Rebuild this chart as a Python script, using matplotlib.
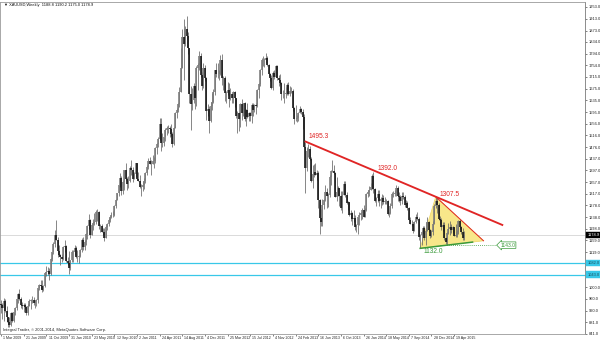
import numpy as np
import pandas as pd
import matplotlib
matplotlib.use("Agg")
import matplotlib.pyplot as plt
import matplotlib.transforms as mtransforms
from matplotlib.patches import Polygon

plt.rcParams["font.family"] = ["Liberation Sans", "DejaVu Sans"]

# XAUUSD weekly bars, first bar = week of 1 Mar 2009
first_week = "2009-03-01"
first_open = 942.0

closes = [
    # 2009
    940, 930, 953, 920, 900, 880, 871, 913, 886, 915, 930, 958, 978, 958, 938, 935,
    940, 932, 911, 937, 952, 955, 955, 947, 952, 955, 996, 1006, 1003, 990, 1003, 1049,
    1051, 1056, 1045, 1096, 1118, 1146, 1176, 1162, 1122, 1108, 1104, 1096,
    # 2010
    1138, 1140, 1090, 1083, 1066, 1091, 1118, 1118, 1133, 1102, 1103, 1105, 1125, 1161, 1137, 1155,
    1180, 1209, 1227, 1177, 1213, 1217, 1222, 1256, 1256, 1208, 1209, 1189, 1188, 1168, 1205, 1215,
    1227, 1237, 1246, 1246, 1276, 1297, 1319, 1346, 1370, 1328, 1358, 1397, 1368, 1352, 1362, 1406,
    1398, 1368, 1384, 1421,
    # 2011
    1369, 1360, 1341, 1341, 1348, 1361, 1387, 1410, 1429, 1420, 1418, 1428, 1429, 1474, 1486, 1504,
    1556, 1491, 1492, 1510, 1536, 1542, 1543, 1539, 1522, 1486, 1543, 1592, 1602, 1624, 1663, 1744,
    1852, 1828, 1877, 1855, 1813, 1657, 1624, 1636, 1683, 1643, 1744, 1756, 1788, 1723, 1685, 1746,
    1711, 1598, 1606, 1566,
    # 2012
    1617, 1631, 1664, 1738, 1725, 1725, 1724, 1774, 1711, 1711, 1659, 1662, 1669, 1641, 1657, 1643,
    1663, 1645, 1582, 1591, 1573, 1622, 1591, 1627, 1572, 1604, 1579, 1592, 1583, 1619, 1603, 1620,
    1616, 1671, 1692, 1740, 1771, 1772, 1772, 1780, 1756, 1724, 1711, 1677, 1730, 1714, 1751, 1712,
    1705, 1696, 1657, 1658, 1656,
    # 2013
    1662, 1687, 1658, 1667, 1667, 1609, 1572, 1572, 1577, 1592, 1606, 1597, 1580, 1476, 1406, 1463,
    1469, 1437, 1361, 1386, 1392, 1383, 1387, 1298, 1234, 1223, 1278, 1296, 1322, 1310, 1313, 1376,
    1396, 1396, 1387, 1308, 1325, 1338, 1310, 1270, 1315, 1351, 1315, 1287, 1288, 1244, 1253, 1231,
    1235, 1204, 1213, 1237,
    # 2014
    1247, 1253, 1264, 1240, 1262, 1318, 1323, 1330, 1339, 1379, 1335, 1294, 1303, 1318, 1293, 1300,
    1302, 1290, 1293, 1293, 1250, 1253, 1275, 1316, 1316, 1320, 1337, 1310, 1307, 1294, 1310, 1305,
    1280, 1287, 1268, 1229, 1216, 1216, 1192, 1222, 1238, 1232, 1171, 1177, 1187, 1201, 1167, 1191,
    1222, 1195, 1174, 1186,
    # 2015
    1216, 1276, 1293, 1279, 1233, 1227, 1203, 1213, 1167, 1152, 1183, 1198, 1203, 1195, 1203, 1175,
    1179, 1189, 1225, 1204, 1189, 1168, 1178.9,
]

highs = [
    # 2009
    955, 946, 962, 961, 935, 896, 897, 915, 916, 917, 933, 960, 981, 992, 965, 951,
    947, 945, 935, 942, 960, 960, 970, 965, 957, 960, 998, 1010, 1025, 1024, 1007, 1050,
    1071, 1070, 1065, 1098, 1120, 1152, 1196, 1227, 1172, 1144, 1113, 1112,
    # 2010
    1140, 1162, 1142, 1104, 1124, 1093, 1128, 1126, 1144, 1139, 1127, 1110, 1131, 1168, 1170, 1160,
    1184, 1212, 1249, 1232, 1216, 1232, 1251, 1262, 1265, 1260, 1214, 1216, 1200, 1202, 1211, 1217,
    1236, 1241, 1254, 1258, 1279, 1300, 1321, 1349, 1387, 1378, 1360, 1398, 1424, 1373, 1378, 1412,
    1432, 1408, 1392, 1424,
    # 2011
    1424, 1391, 1381, 1351, 1360, 1370, 1391, 1414, 1441, 1444, 1434, 1448, 1442, 1476, 1489, 1510,
    1576, 1577, 1525, 1512, 1540, 1549, 1553, 1549, 1556, 1528, 1546, 1595, 1610, 1628, 1682, 1815,
    1878, 1912, 1890, 1922, 1868, 1812, 1683, 1678, 1695, 1683, 1751, 1764, 1802, 1796, 1732, 1764,
    1756, 1716, 1624, 1617,
    # 2012
    1630, 1662, 1674, 1740, 1764, 1763, 1738, 1790, 1792, 1718, 1718, 1667, 1697, 1696, 1677, 1659,
    1667, 1667, 1645, 1598, 1596, 1627, 1641, 1628, 1630, 1606, 1626, 1597, 1596, 1627, 1625, 1622,
    1627, 1675, 1693, 1741, 1778, 1788, 1781, 1796, 1787, 1760, 1729, 1723, 1734, 1737, 1754, 1754,
    1722, 1725, 1699, 1670, 1694,
    # 2013
    1681, 1694, 1697, 1685, 1682, 1674, 1613, 1619, 1586, 1597, 1616, 1611, 1605, 1588, 1495.3, 1476,
    1487, 1481, 1444, 1417, 1418, 1424, 1397, 1396, 1300, 1267, 1299, 1299, 1348, 1338, 1320, 1380,
    1398, 1433, 1417, 1392, 1374, 1344, 1336, 1327, 1328, 1362, 1361, 1323, 1293, 1289, 1262, 1254,
    1261, 1245, 1216, 1239,
    # 2014
    1255, 1256, 1270, 1280, 1268, 1320, 1332, 1345, 1355, 1385, 1392, 1338, 1307, 1332, 1331, 1305,
    1316, 1315, 1305, 1300, 1295, 1257, 1285, 1325, 1326, 1332, 1346, 1343, 1324, 1312, 1322, 1322,
    1314, 1296, 1292, 1272, 1240, 1229, 1223, 1226, 1250, 1255, 1237, 1180, 1190, 1207, 1207, 1222,
    1238, 1226, 1198, 1194,
    # 2015
    1224, 1282, 1307.5, 1305, 1285, 1242, 1236, 1221, 1223, 1171, 1188, 1219, 1224, 1215, 1209, 1204,
    1214, 1195, 1227, 1232, 1209, 1200, 1190.2,
]

lows = [
    # 2009
    912, 893, 885, 917, 882, 865, 866, 868, 881, 880, 906, 922, 945, 955, 930, 925,
    915, 924, 905, 906, 935, 925, 945, 938, 928, 936, 945, 989, 995, 985, 987, 1002,
    1039, 1042, 1023, 1043, 1088, 1114, 1137, 1160, 1104, 1105, 1076, 1086,
    # 2010
    1094, 1120, 1087, 1075, 1045, 1058, 1084, 1086, 1108, 1098, 1086, 1082, 1101, 1121, 1125, 1128,
    1143, 1164, 1198, 1166, 1176, 1195, 1211, 1215, 1225, 1198, 1189, 1189, 1176, 1157, 1176, 1193,
    1209, 1223, 1234, 1239, 1241, 1270, 1295, 1311, 1342, 1315, 1318, 1331, 1364, 1330, 1336, 1356,
    1381, 1359, 1371, 1375,
    # 2011
    1365, 1360, 1337, 1309, 1327, 1333, 1355, 1381, 1403, 1418, 1381, 1418, 1406, 1424, 1452, 1478,
    1500, 1462, 1478, 1481, 1498, 1519, 1524, 1511, 1515, 1478, 1482, 1544, 1576, 1596, 1614, 1666,
    1744, 1704, 1819, 1818, 1792, 1628, 1535, 1601, 1628, 1605, 1616, 1672, 1737, 1715, 1670, 1679,
    1700, 1567, 1583, 1523,
    # 2012
    1563, 1604, 1626, 1654, 1714, 1711, 1705, 1720, 1688, 1671, 1634, 1627, 1655, 1612, 1636, 1625,
    1627, 1614, 1577, 1526, 1532, 1546, 1570, 1581, 1564, 1547, 1577, 1565, 1564, 1560, 1581, 1597,
    1590, 1614, 1645, 1684, 1722, 1753, 1750, 1762, 1753, 1719, 1700, 1674, 1672, 1707, 1723, 1705,
    1683, 1692, 1635, 1644, 1625,
    # 2013
    1645, 1655, 1655, 1651, 1662, 1600, 1555, 1565, 1562, 1565, 1591, 1588, 1539, 1476, 1321, 1395,
    1442, 1431, 1359, 1338, 1373, 1380, 1365, 1270, 1180, 1207, 1208, 1267, 1294, 1270, 1274, 1308,
    1348, 1390, 1384, 1306, 1294, 1311, 1277, 1262, 1251, 1313, 1307, 1282, 1263, 1241, 1226, 1211,
    1222, 1195, 1187, 1182,
    # 2014
    1211, 1227, 1233, 1238, 1238, 1258, 1306, 1310, 1330, 1334, 1321, 1288, 1277, 1291, 1277, 1268,
    1278, 1283, 1284, 1283, 1245, 1240, 1250, 1270, 1306, 1309, 1311, 1292, 1290, 1281, 1283, 1299,
    1273, 1274, 1262, 1227, 1214, 1207, 1183, 1190, 1217, 1227, 1160, 1132, 1145, 1180, 1162, 1142,
    1190, 1186, 1167, 1171,
    # 2015
    1178, 1218, 1270, 1251, 1229, 1216, 1196, 1191, 1162, 1147, 1142.9, 1182, 1178, 1183, 1183, 1174,
    1170, 1170, 1181, 1199, 1182, 1162, 1162,
]

price_ticks = [1953.0, 1913.0, 1873.0, 1834.0, 1794.0, 1754.0, 1715.0, 1675.0, 1635.0, 1595.0,
               1556.0, 1516.0, 1476.0, 1437.0, 1397.0, 1357.0, 1317.0, 1278.0, 1238.0, 1198.0,
               1159.0, 1119.0, 1080.0, 1040.0, 1000.0, 960.0, 920.0, 881.0, 841.0]

date_labels = ["1 Mar 2009", "21 Jun 2009", "11 Oct 2009", "31 Jan 2010", "23 May 2010",
               "12 Sep 2010", "2 Jan 2011", "24 Apr 2011", "14 Aug 2011", "4 Dec 2011",
               "25 Mar 2012", "15 Jul 2012", "4 Nov 2012", "24 Feb 2013", "16 Jun 2013",
               "6 Oct 2013", "26 Jan 2014", "18 May 2014", "7 Sep 2014", "28 Dec 2014",
               "19 Apr 2015"]
label_step = 16

title = "XAUUSD,Weekly  1188.8 1190.2 1175.0 1178.9"
footer = "Integral Trader, \u00a9 2001-2014, MetaQuotes Software Corp."

# hand drawn objects: (week, price)
resist_pts = [("2013-04-14", 1495.3), ("2015-01-18", 1307.5)]
resist_mid = ("2014-03-16", 1392.0)
resist_ext = 47          # weeks past the second anchor
support_pts = [("2014-11-02", 1132.0), ("2015-03-15", 1142.9)]
support_ext = 18
wedge_top2 = ("2015-05-17", 1232.0)
level_low = 1142.9
level_text = "1143.0"
cyan_levels = [1082.0, 1043.0]
last_price = 1178.9

RED = "#e02525"
GREEN = "#3a9a3a"
CYAN = "#38c8e8"

# ---------------------------------------------------------------
closes = np.array(closes, dtype=float)
highs = np.array(highs, dtype=float)
lows = np.array(lows, dtype=float)
assert len(closes) == len(highs) == len(lows)
opens = np.r_[first_open, closes[:-1]]
dates = pd.date_range(first_week, periods=len(closes), freq="W-SUN")
x = np.arange(len(closes))


def wk(d):
    return dates.get_loc(pd.Timestamp(d))


fig = plt.figure(figsize=(6, 3.42), dpi=100)
ax = fig.add_axes([0.0, 8 / 342, 585 / 600, 332 / 342])
ax.set_xlim(-0.7, 412.4)
ax.set_ylim(840.6, 1970.0)

# candles
hi = np.maximum.reduce([highs, opens, closes])
lo = np.minimum.reduce([lows, opens, closes])
ax.vlines(x, lo, hi, color="#666666", lw=0.55, zorder=3)
up = closes >= opens
ax.vlines(x[up], opens[up], closes[up], color="#7a7a7a", lw=1.15, zorder=4)
ax.vlines(x[~up], closes[~up], opens[~up], color="#101010", lw=1.15, zorder=4)

# bid line and cyan levels
ax.axhline(last_price, color="#cccccc", lw=0.5, zorder=1)
for lv in cyan_levels:
    ax.axhline(lv, color=CYAN, lw=0.9, zorder=2)

# falling resistance line
r0, r1 = wk(resist_pts[0][0]), wk(resist_pts[1][0])
p0, p1 = resist_pts[0][1], resist_pts[1][1]
slope_r = (p1 - p0) / (r1 - r0)
r_end = r1 + resist_ext
ax.plot([r0, r_end], [p0, p1 + slope_r * resist_ext], color=RED, lw=1.35, zorder=6)

# triangle: support through the two lows, top through the two highs
s0, s1 = wk(support_pts[0][0]), wk(support_pts[1][0])
q0, q1 = support_pts[0][1], support_pts[1][1]
slope_s = (q1 - q0) / (s1 - s0)
t2 = wk(wedge_top2[0])
slope_t = (wedge_top2[1] - p1) / (t2 - r1)
xi = (p1 - slope_t * r1 - q0 + slope_s * s0) / (slope_s - slope_t)
yi = q0 + slope_s * (xi - s0)
tri = Polygon([[s0, q0], [r1, p1], [xi, yi]], closed=True,
              facecolor="#f8e78a", edgecolor="#efd665", lw=0.5, zorder=2)
ax.add_patch(tri)
ax.plot([r1, xi], [p1, yi], color=RED, lw=0.7, zorder=6)
s_end = s1 + support_ext
ax.plot([s0, s_end], [q0, q0 + slope_s * (s_end - s0)], color=GREEN, lw=1.1, zorder=6)

# dotted level with its price tag
ax.plot([s1 - 5, r_end - 3], [level_low, level_low], color=GREEN, lw=0.6,
        ls=(0, (1, 1.5)), zorder=5)
ax.annotate(level_text, (r_end - 3, level_low), xytext=(1.5, 0), textcoords="offset points",
            ha="left", va="center", fontsize=3.6, color=GREEN, zorder=7,
            bbox=dict(boxstyle="larrow,pad=0.15", fc="white", ec=GREEN, lw=0.5))

# price labels
lab = dict(ha="center", va="center", fontsize=4.8, textcoords="offset points", zorder=7)
ax.annotate(f"{p0:.1f}", (r0, p0), xytext=(9.2, 3.5), color=RED, **lab)
ax.annotate(f"{resist_mid[1]:.1f}", (wk(resist_mid[0]), resist_mid[1]), xytext=(9.8, 2.6),
            color=RED, **lab)
ax.annotate(f"{p1:.1f}", (r1, p1), xytext=(10.0, 1.4), color=RED, **lab)
ax.annotate(f"{q0:.1f}", (s0, q0), xytext=(9.4, -2.6), color=GREEN, **lab)

# frame
for sp in ax.spines.values():
    sp.set_color("#9a9a9a")
    sp.set_linewidth(0.6)
ax.spines["right"].set_color("#7a7a7a")

# right price scale
ax.yaxis.tick_right()
ax.set_yticks(price_ticks)
ax.set_yticklabels([f"{v:.1f}" for v in price_ticks])
ax.tick_params(axis="y", labelsize=2.9, length=1.5, width=0.4, pad=1.2,
               colors="#222222")

ytag = mtransforms.blended_transform_factory(ax.transAxes, ax.transData)
for lv in cyan_levels:
    ax.text(1.004, lv, f"{lv:.1f}", transform=ytag, ha="left", va="center",
            fontsize=2.9, color="#1d4f5e", zorder=8, clip_on=False,
            bbox=dict(boxstyle="square,pad=0.25", fc=CYAN, ec=CYAN, lw=0.3))
ax.text(1.004, last_price, f"{last_price:.1f}", transform=ytag, ha="left", va="center",
        fontsize=2.9, color="white", zorder=8, clip_on=False,
        bbox=dict(boxstyle="square,pad=0.25", fc="black", ec="black", lw=0.3))

# bottom time scale
ax.set_xticks(x[::label_step][:len(date_labels)])
ax.set_xticklabels(date_labels)
ax.tick_params(axis="x", labelsize=2.6, length=1.2, width=0.4, pad=0.3,
               colors="#222222")
shift = mtransforms.ScaledTranslation(1.6 / 72, 0, fig.dpi_scale_trans)
for t in ax.get_xticklabels():
    t.set_ha("left")
    t.set_transform(t.get_transform() + shift)

# header and footer
fig.text(4 / 600, 1 - 5 / 342, "\u25bc " + title, fontsize=2.9, va="center",
         ha="left", color="#111111")
ax.text(0.005, 0.011, footer, transform=ax.transAxes, fontsize=2.9, va="center",
        ha="left", color="#222222")

fig.savefig("out.png", dpi=100, facecolor="white")
